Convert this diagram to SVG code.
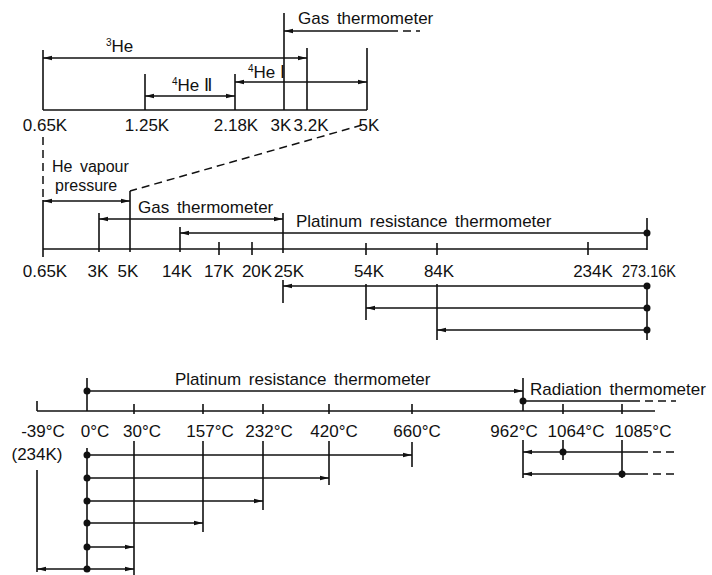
<svg xmlns="http://www.w3.org/2000/svg" width="712" height="575" viewBox="0 0 712 575">
<style>
.ln{stroke:#111;stroke-width:1.6;fill:none}
.ds{stroke:#111;stroke-width:1.5;fill:none;stroke-dasharray:8 5}
.ar{marker-end:url(#ah)}
.ab{marker-start:url(#ah);marker-end:url(#ah)}
.as{marker-start:url(#ah)}
text{font-family:"Liberation Sans","DejaVu Sans",sans-serif;font-size:17px;fill:#111}
.tk{text-anchor:middle}
.lb{word-spacing:3px}
.sm{font-size:16px}
.dot{fill:#111}
</style>
<defs>
<marker id="ah" viewBox="0 0 10 6" refX="10" refY="3" markerWidth="9" markerHeight="6" markerUnits="userSpaceOnUse" orient="auto-start-reverse"><path d="M0,0.5 L10,3 L0,5.5 Z" fill="#111"/></marker>
</defs>
<rect width="712" height="575" fill="#fff"/>

<g id="top-scale">
<line class="ln" x1="43" y1="110" x2="367" y2="110"/>
<line class="ln" x1="43" y1="50" x2="43" y2="110"/>
<line class="ln" x1="145" y1="74" x2="145" y2="110"/>
<line class="ln" x1="235" y1="74" x2="235" y2="110"/>
<line class="ln" x1="284" y1="13" x2="284" y2="110"/>
<line class="ln" x1="307" y1="48" x2="307" y2="110"/>
<line class="ln" x1="367" y1="48" x2="367" y2="110"/>
<text class="tk" x="45" y="131">0.65K</text>
<text class="tk" x="147" y="131">1.25K</text>
<text class="tk" x="236" y="131">2.18K</text>
<text class="tk" x="281" y="131">3K</text>
<text class="tk" x="311" y="131">3.2K</text>
<text class="tk" x="369" y="131">5K</text>
</g>

<g id="middle-scale">
<line class="ln" x1="43" y1="249" x2="647" y2="249"/>
<line class="ln" x1="43" y1="200" x2="43" y2="257"/>
<line class="ln" x1="99" y1="213" x2="99" y2="252"/>
<line class="ln" x1="130" y1="191" x2="130" y2="252"/>
<line class="ln" x1="180" y1="227" x2="180" y2="252"/>
<line class="ln" x1="219" y1="242" x2="219" y2="255"/>
<line class="ln" x1="252" y1="242" x2="252" y2="255"/>
<line class="ln" x1="283" y1="213" x2="283" y2="253"/>
<line class="ln" x1="283" y1="280" x2="283" y2="303"/>
<line class="ln" x1="366" y1="243" x2="366" y2="255"/>
<line class="ln" x1="366" y1="284" x2="366" y2="320"/>
<line class="ln" x1="437" y1="243" x2="437" y2="255"/>
<line class="ln" x1="437" y1="284" x2="437" y2="340"/>
<line class="ln" x1="588" y1="242" x2="588" y2="255"/>
<line class="ln" x1="647" y1="218" x2="647" y2="250"/>
<line class="ln" x1="647" y1="283" x2="647" y2="340"/>
<text class="tk" x="45" y="277">0.65K</text>
<text class="tk" x="98" y="277">3K</text>
<text class="tk" x="128" y="277">5K</text>
<text class="tk" x="177" y="277">14K</text>
<text class="tk" x="219" y="277">17K</text>
<text class="tk" x="257" y="277">20K</text>
<text class="tk" x="289" y="277">25K</text>
<text class="tk" x="369" y="277">54K</text>
<text class="tk" x="439" y="277">84K</text>
<text class="tk" x="593" y="277">234K</text>
<text x="622" y="277" textLength="54" lengthAdjust="spacingAndGlyphs">273.16K</text>
</g>

<g id="bottom-scale">
<line class="ln" x1="37" y1="411" x2="655" y2="411"/>
<line class="ln" x1="37" y1="401" x2="37" y2="411"/>
<line class="ln" x1="37" y1="470" x2="37" y2="572"/>
<line class="ln" x1="87" y1="378" x2="87" y2="411"/>
<line class="ln" x1="87" y1="448" x2="87" y2="569"/>
<line class="ln" x1="134" y1="404" x2="134" y2="414"/>
<line class="ln" x1="134" y1="441" x2="134" y2="575"/>
<line class="ln" x1="203" y1="404" x2="203" y2="414"/>
<line class="ln" x1="203" y1="441" x2="203" y2="532"/>
<line class="ln" x1="263" y1="404" x2="263" y2="414"/>
<line class="ln" x1="263" y1="441" x2="263" y2="510"/>
<line class="ln" x1="329" y1="404" x2="329" y2="414"/>
<line class="ln" x1="329" y1="441" x2="329" y2="485"/>
<line class="ln" x1="412" y1="404" x2="412" y2="414"/>
<line class="ln" x1="412" y1="442" x2="412" y2="467"/>
<line class="ln" x1="523" y1="378" x2="523" y2="411"/>
<line class="ln" x1="523" y1="440" x2="523" y2="478"/>
<line class="ln" x1="563" y1="404" x2="563" y2="414"/>
<line class="ln" x1="563" y1="440" x2="563" y2="460"/>
<line class="ln" x1="622" y1="404" x2="622" y2="414"/>
<line class="ln" x1="622" y1="440" x2="622" y2="478"/>
<text class="tk" x="43" y="437">-39°C</text>
<text class="tk" x="37" y="460">(234K)</text>
<text class="tk" x="95" y="437">0°C</text>
<text class="tk" x="142" y="437">30°C</text>
<text class="tk" x="210" y="437">157°C</text>
<text class="tk" x="269" y="437">232°C</text>
<text class="tk" x="334" y="437">420°C</text>
<text class="tk" x="417" y="437">660°C</text>
<text class="tk" x="514" y="437">962°C</text>
<text class="tk" x="576" y="437">1064°C</text>
<text class="tk" x="643" y="437">1085°C</text>
</g>

<g id="range-labels">
<text x="106" y="52"><tspan font-size="10" dy="-6">3</tspan><tspan dy="6">He</tspan></text>
<text x="172" y="91"><tspan font-size="10" dy="-6">4</tspan><tspan dy="6">He Ⅱ</tspan></text>
<text x="248" y="78"><tspan font-size="10" dy="-6">4</tspan><tspan dy="6">He Ⅰ</tspan></text>
<text class="lb" x="298" y="24">Gas thermometer</text>
<text class="lb sm" x="52" y="172">He vapour</text>
<text class="lb sm" x="55" y="191">pressure</text>
<text class="lb" x="138" y="213">Gas thermometer</text>
<text class="lb" x="296" y="227">Platinum resistance thermometer</text>
<text class="lb" x="175" y="385">Platinum resistance thermometer</text>
<text class="lb" x="530" y="395">Radiation thermometer</text>
</g>

<g id="connectors">
<line class="ln ab" x1="43" y1="58" x2="307" y2="58"/>
<line class="ln ab" x1="145" y1="96" x2="235" y2="96"/>
<line class="ln ab" x1="235" y1="82" x2="367" y2="82"/>
<line class="ln as" x1="284" y1="31" x2="390" y2="31"/>
<line class="ds" x1="390" y1="31" x2="420" y2="31"/>
<line class="ds" x1="43" y1="137" x2="43" y2="200"/>
<line class="ds" x1="362" y1="125" x2="130" y2="191"/>
<line class="ln ab" x1="43" y1="201" x2="130" y2="201"/>
<line class="ln ab" x1="99" y1="219" x2="283" y2="219"/>
<line class="ln as" x1="180" y1="233" x2="647" y2="233"/>
<line class="ln as" x1="283" y1="286" x2="647" y2="286"/>
<line class="ln as" x1="366" y1="308" x2="647" y2="308"/>
<line class="ln as" x1="437" y1="330" x2="647" y2="330"/>
<circle class="dot" cx="647" cy="233" r="3.5"/>
<circle class="dot" cx="647" cy="286" r="3.5"/>
<circle class="dot" cx="647" cy="308" r="3.5"/>
<circle class="dot" cx="647" cy="330" r="3.5"/>
<line class="ln ar" x1="87" y1="391" x2="523" y2="391"/>
<line class="ln" x1="523" y1="401" x2="632" y2="401"/>
<line class="ds" x1="632" y1="401" x2="676" y2="401"/>
<line class="ln as" x1="523" y1="452" x2="640" y2="452"/>
<line class="ds" x1="640" y1="452" x2="676" y2="452"/>
<line class="ln as" x1="523" y1="474" x2="640" y2="474"/>
<line class="ds" x1="640" y1="474" x2="676" y2="474"/>
<line class="ln ar" x1="87" y1="455" x2="412" y2="455"/>
<line class="ln ar" x1="87" y1="478" x2="329" y2="478"/>
<line class="ln ar" x1="87" y1="501" x2="263" y2="501"/>
<line class="ln ar" x1="87" y1="523" x2="203" y2="523"/>
<line class="ln ar" x1="87" y1="547" x2="134" y2="547"/>
<line class="ln ab" x1="37" y1="569" x2="134" y2="569"/>
<circle class="dot" cx="87" cy="391" r="3.5"/>
<circle class="dot" cx="523" cy="401" r="3.5"/>
<circle class="dot" cx="563" cy="452" r="3.5"/>
<circle class="dot" cx="622" cy="474" r="3.5"/>
<circle class="dot" cx="87" cy="455" r="3.5"/>
<circle class="dot" cx="87" cy="478" r="3.5"/>
<circle class="dot" cx="87" cy="501" r="3.5"/>
<circle class="dot" cx="87" cy="523" r="3.5"/>
<circle class="dot" cx="87" cy="547" r="3.5"/>
<circle class="dot" cx="87" cy="569" r="3.5"/>
</g>
</svg>
